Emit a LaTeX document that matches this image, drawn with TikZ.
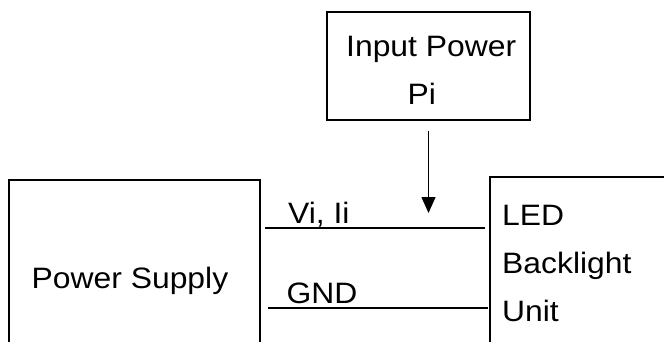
\documentclass[tikz,border=0pt]{standalone}
\usepackage{fontspec}
\setmainfont{Liberation Sans}[FakeStretch=1.08]
\usetikzlibrary{arrows.meta}
\begin{document}
\begin{tikzpicture}[x=1pt,y=-1pt,
  box/.style={draw, rectangle, inner sep=0pt, line width=1.3pt},
  lbl/.style={inner sep=0pt, anchor=base west, font=\fontsize{29.5}{36}\selectfont},
  wire/.style={line width=1.6pt},
  arr/.style={line width=1.3pt, -{Triangle[length=16pt,width=14pt]}, shorten <=10pt}]
\useasboundingbox (0,0) rectangle (664,342);
\clip (0,0) rectangle (664,342);
\node[box, minimum width=203pt, minimum height=108pt] (inp) at (428.5,66) {};
\node[box, minimum width=251pt, minimum height=240pt] (ps) at (134.5,300) {};
\node[box, minimum width=220pt, minimum height=246pt] (led) at (600,300) {};
\node[lbl] (tin) at (346,57) {Input Power};
\node[lbl] (tpi) at (407.5,105) {Pi};
\node[lbl] (tps) at (31.5,288) {Power Supply};
\node[lbl] (tled) at (502,225) {LED};
\node[lbl] (tbl) at (502,273) {Backlight};
\node[lbl] (tun) at (502,321) {Unit};
\node[lbl] (tvi) at (288,223) {Vi, Ii};
\node[lbl] (tgnd) at (286.5,303) {GND};
\coordinate (v1) at (265,228);
\coordinate (v2) at (485,228);
\coordinate (g1) at (268,308);
\coordinate (g2) at (488,308);
\coordinate (atip) at (429,213);
\draw[wire] (v1) -- (v2);
\draw[wire] (g1) -- (g2);
\draw[arr] (inp.south) -- (inp.south |- atip);
\end{tikzpicture}
\end{document}
